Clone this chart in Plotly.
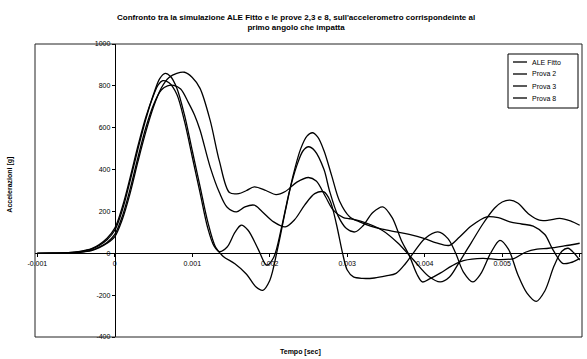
import plotly.graph_objects as go

# ---- data (time in ms, acceleration in g) ----
series_names = ["ALE Fitto", "Prova 2", "Prova 3", "Prova 8"]

t_ale = [-1.0, -0.8, -0.6, -0.45, -0.3, -0.2, -0.1, 0.0, 0.1, 0.2, 0.3, 0.4, 0.5, 0.58, 0.65, 0.72, 0.8, 0.9, 1.0, 1.1, 1.2, 1.3, 1.4, 1.55, 1.7, 1.82, 1.91, 2.0, 2.1, 2.2, 2.3, 2.4, 2.48, 2.55, 2.62, 2.7, 2.8, 2.9, 3.03, 3.16, 3.3, 3.45, 3.63, 3.8, 4.0, 4.15, 4.32, 4.45, 4.6, 4.8, 4.95, 5.1, 5.25, 5.4, 5.55, 5.65, 5.78, 5.88, 6.0]
a_ale = [0, 1, 3, 8, 20, 38, 65, 110, 210, 350, 500, 640, 760, 835, 860, 845, 790, 660, 490, 320, 150, 30, -15, -50, -100, -160, -177, -130, 20, 200, 370, 500, 560, 576, 555, 490, 370, 250, 175, 150, 130, 115, 102, 90, 70, 50, 38, 78, 130, 174, 170, 150, 140, 130, 90, 20, -48, -45, -24]

t_p2 = [-1.0, -0.8, -0.6, -0.45, -0.3, -0.2, -0.1, 0.0, 0.1, 0.2, 0.3, 0.4, 0.5, 0.56, 0.62, 0.7, 0.8, 0.9, 1.0, 1.1, 1.2, 1.28, 1.35, 1.45, 1.55, 1.63, 1.72, 1.85, 1.96, 2.05, 2.15, 2.25, 2.35, 2.43, 2.5, 2.58, 2.7, 2.77, 2.88, 2.99, 3.1, 3.2, 3.33, 3.46, 3.58, 3.7, 3.8, 3.9, 3.97, 4.05, 4.2, 4.35, 4.5, 4.75, 4.95, 5.15, 5.3, 5.45, 5.6, 5.8, 6.0]
a_p2 = [0, 1, 3, 9, 22, 42, 72, 120, 225, 365, 515, 650, 755, 805, 825, 815, 760, 630, 460, 290, 120, 35, 8, 30, 100, 134, 110, 20, -57, -20, 120, 290, 420, 490, 509, 490, 400, 300, 180, 118, 102, 130, 195, 222, 170, 60, -10, -100, -137, -125, -95, -60, -35, -24, -30, -25, 5, 20, 24, 35, 48]

t_p3 = [-1.0, -0.8, -0.6, -0.45, -0.3, -0.2, -0.1, 0.0, 0.1, 0.2, 0.3, 0.4, 0.5, 0.6, 0.68, 0.76, 0.85, 0.95, 1.03, 1.1, 1.23, 1.35, 1.45, 1.57, 1.68, 1.8, 1.9, 2.05, 2.2, 2.32, 2.45, 2.58, 2.7, 2.78, 2.86, 2.94, 3.0, 3.08, 3.2, 3.35, 3.5, 3.63, 3.75, 3.85, 4.0, 4.17, 4.3, 4.4, 4.5, 4.62, 4.72, 4.85, 4.97, 5.08, 5.2, 5.32, 5.44, 5.55, 5.67, 5.77, 5.85, 5.93, 6.0]
a_p3 = [0, 1, 2, 6, 15, 30, 52, 90, 180, 310, 460, 600, 710, 780, 800, 802, 785, 720, 660, 589, 413, 290, 220, 198, 222, 230, 200, 150, 126, 160, 230, 285, 293, 250, 140, 0, -80, -113, -120, -118, -108, -96, -50, 0, 70, 102, 70, 0, -90, -137, -100, 0, 62, 20, -100, -190, -230, -180, -60, 10, 24, 0, -33]

t_p8 = [-1.0, -0.8, -0.6, -0.45, -0.3, -0.2, -0.1, 0.0, 0.1, 0.2, 0.3, 0.4, 0.5, 0.6, 0.7, 0.8, 0.9, 1.0, 1.1, 1.23, 1.35, 1.48, 1.6, 1.7, 1.8, 1.95, 2.08, 2.2, 2.35, 2.5, 2.6, 2.72, 2.82, 2.95, 3.03, 3.2, 3.45, 3.65, 3.85, 4.05, 4.2, 4.32, 4.45, 4.6, 4.75, 4.9, 5.0, 5.1, 5.2, 5.35, 5.48, 5.6, 5.74, 5.88, 6.0]
a_p8 = [0, 1, 2, 5, 13, 27, 48, 80, 165, 290, 440, 580, 700, 790, 840, 860, 865, 840, 788, 636, 440, 290, 285, 300, 317, 300, 280, 295, 340, 362, 345, 270, 206, 170, 165, 150, 110, 50, -30, -110, -137, -113, -40, 50, 140, 215, 245, 254, 240, 185, 158, 158, 167, 155, 134]

x_tick_vals = [-0.001, 0, 0.001, 0.002, 0.003, 0.004, 0.005, 0.006]
x_tick_text = ["-0.001", "0", "0.001", "0.002", "0.003", "0.004", "0.005", "0.006"]
y_tick_vals = [-400, -200, 0, 200, 400, 600, 800, 1000]
y_tick_text = ["-400", "-200", "0", "200", "400", "600", "800", "1000"]

title_text = ("Confronto tra la simulazione ALE Fitto e le prove 2,3 e 8, sull'accelerometro corrispondeinte al"
              "<br>primo angolo che impatta")

FONT = "Liberation Sans, Arial, sans-serif"
W, H = 587, 359
ML, MR, MT, MB = 35, 5, 44, 22
PW, PH = W - ML - MR, H - MT - MB


def px_x(px):
    return (px - ML) / PW


def px_y(py):
    return 1 - (py - MT) / PH


fig = go.Figure()
for name, t, a in [(series_names[0], t_ale, a_ale), (series_names[1], t_p2, a_p2),
                   (series_names[2], t_p3, a_p3), (series_names[3], t_p8, a_p8)]:
    fig.add_trace(go.Scatter(
        x=[v * 0.001 for v in t], y=a, name=name, mode="lines", showlegend=False,
        line=dict(color="black", width=1.3, shape="spline", smoothing=0.9),
    ))

x_range = [-0.00103, 0.00603]
y_range = [-400, 1000]
y_axis_pos = (0 - x_range[0]) / (x_range[1] - x_range[0])
x_axis_pos = (0 - y_range[0]) / (y_range[1] - y_range[0])

# manual legend (compact, like the original)
shapes = [dict(type="rect", xref="paper", yref="paper", x0=0, x1=1, y0=0, y1=1,
               line=dict(color="#222222", width=1), fillcolor="rgba(0,0,0,0)"),
          dict(type="rect", xref="paper", yref="paper", x0=px_x(508), x1=px_x(578),
               y0=px_y(108), y1=px_y(54), line=dict(color="black", width=1),
               fillcolor="white", layer="above")]
annotations = [
    dict(text="<b>" + title_text + "</b>", xref="paper", yref="paper",
         x=px_x(296), y=px_y(22.5), showarrow=False, align="center",
         font=dict(size=8, family=FONT), xanchor="center", yanchor="middle"),
    dict(text="<b>Accelerazioni [g]</b>", xref="paper", yref="paper",
         x=px_x(10), y=0.52, textangle=-90, showarrow=False,
         font=dict(size=7, family=FONT), xanchor="center", yanchor="middle"),
    dict(text="<b>Tempo [sec]</b>", xref="paper", yref="paper",
         x=px_x(300), y=px_y(352), showarrow=False,
         font=dict(size=7, family=FONT), xanchor="center", yanchor="middle"),
]
for i, name in enumerate(series_names):
    yy = px_y(62 + 12 * i)
    shapes.append(dict(type="line", xref="paper", yref="paper", x0=px_x(513), x1=px_x(527),
                       y0=yy, y1=yy, line=dict(color="black", width=1.3), layer="above"))
    annotations.append(dict(text=name, xref="paper", yref="paper", x=px_x(530), y=yy,
                            showarrow=False, xanchor="left", yanchor="middle",
                            font=dict(size=7, family=FONT)))

fig.update_layout(
    width=W, height=H,
    margin=dict(l=ML, r=MR, t=MT, b=MB),
    paper_bgcolor="white", plot_bgcolor="white",
    font=dict(family=FONT, color="black", size=7),
    showlegend=False,
    xaxis=dict(range=x_range, anchor="free", position=x_axis_pos,
               showgrid=False, zeroline=False, showline=True, linecolor="black", linewidth=1,
               ticks="outside", ticklen=3, tickcolor="black",
               tickvals=x_tick_vals, ticktext=x_tick_text,
               tickfont=dict(size=7, family=FONT)),
    yaxis=dict(range=y_range, anchor="free", position=y_axis_pos,
               showgrid=False, zeroline=False, showline=True, linecolor="black", linewidth=1,
               ticks="outside", ticklen=3, tickcolor="black",
               tickvals=y_tick_vals, ticktext=y_tick_text,
               tickfont=dict(size=7, family=FONT)),
    shapes=shapes,
    annotations=annotations,
)

fig.write_html("out.html")
